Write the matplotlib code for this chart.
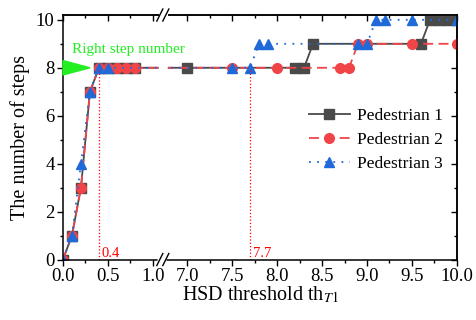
import numpy as np
import matplotlib.pyplot as plt
from matplotlib.patches import Polygon

# data
x1 = [0, 0.1, 0.2, 0.3, 0.4, 0.5, 0.6, 0.7, 0.8, 7.0, 8.2, 8.3, 8.4, 9.6, 9.7, 9.8, 9.9, 10.0]
y1 = [0, 1, 3, 7, 8, 8, 8, 8, 8, 8, 8, 8, 9, 9, 10, 10, 10, 10]
x2 = [0, 0.1, 0.2, 0.3, 0.4, 0.5, 0.6, 0.7, 0.8, 7.5, 8.0, 8.7, 8.8, 8.9, 9.0, 9.5, 10.0]
y2 = [0, 1, 3, 7, 8, 8, 8, 8, 8, 8, 8, 8, 8, 9, 9, 9, 9]
x3 = [0, 0.1, 0.2, 0.3, 0.4, 0.5, 7.5, 7.7, 7.8, 7.9, 8.9, 9.0, 9.1, 9.2, 9.5, 10.0]
y3 = [0, 1, 4, 7, 8, 8, 8, 8, 9, 9, 9, 9, 10, 10, 10, 10]
labels = ['Pedestrian 1', 'Pedestrian 2', 'Pedestrian 3']
right_steps = 8
marks = [0.4, 7.7]
xticks = [0.0, 0.5, 1.0, 7.0, 7.5, 8.0, 8.5, 9.0, 9.5, 10.0]
xminor = [0.25, 0.75, 7.25, 7.75, 8.25, 8.75, 9.25, 9.75]

GAP = 0.38  # width of the axis break (in data units)
BRK = 1.11  # break position on the transformed axis


def tx(v):
    v = np.asarray(v, dtype=float)
    return np.where(v <= 1.0, v, v - 7.0 + 1.0 + GAP)


plt.rcParams['font.family'] = ['Liberation Serif', 'DejaVu Serif']
plt.rcParams['mathtext.fontset'] = 'stix'

fig = plt.figure(figsize=(4.77, 3.2), dpi=100)
ax = fig.add_axes([0.132, 0.189, 0.826, 0.764])

ax.plot(tx(x1), y1, '-s', color='#4a4a4a', lw=1.3, ms=6.5, label=labels[0])
ax.plot(tx(x2), y2, '--o', color='#f04448', lw=1.3, ms=7, dashes=(5.5, 3), label=labels[1])
ax.plot(tx(x3), y3, ':^', color='#1f6ad8', lw=1.3, ms=7.5, dashes=(1, 3.5), label=labels[2])

for m in marks:
    ax.plot([tx(m), tx(m)], [0, right_steps], ':', color='red', lw=0.9)
    ax.text(tx(m) + 0.03, 0.12, f'{m}', color='red', fontsize=10.5)

# green arrow to the right step number
tri = Polygon([[0, right_steps - 0.3], [0, right_steps + 0.3], [0.3, right_steps]],
              closed=True, color='#22ee22', zorder=5, clip_on=False)
ax.add_patch(tri)
ax.text(0.1, 8.77, 'Right step number', color='#22ee22', fontsize=11, va='center', zorder=8)

ax.set_xlim(0, tx(10.0))
ax.set_ylim(0, 10.2)
ax.set_xticks(tx(xticks))
ax.set_xticklabels([f'{v:.1f}' for v in xticks])
ax.set_xticks(tx(xminor), minor=True)
ax.set_yticks([0, 2, 4, 6, 8, 10])
ax.set_yticks([1, 3, 5, 7, 9], minor=True)
ax.tick_params(which='both', direction='out', labelsize=13.5, width=1)
ax.tick_params(which='major', length=4, pad=2)
ax.tick_params(which='minor', length=2.5)
for s in ax.spines.values():
    s.set_linewidth(1.1)

# mirrored ticks on top and right pointing inwards
axt = ax.secondary_xaxis('top')
axt.set_xticks(tx(xticks))
axt.set_xticks(tx(xminor), minor=True)
axt.tick_params(which='both', direction='in', labeltop=False, width=1)
axt.tick_params(which='major', length=4)
axt.tick_params(which='minor', length=2.5)
axt.spines['top'].set_linewidth(1.1)
axr = ax.secondary_yaxis('right')
axr.set_yticks([0, 2, 4, 6, 8, 10])
axr.set_yticks([1, 3, 5, 7, 9], minor=True)
axr.tick_params(which='both', direction='in', labelright=False, width=1)
axr.tick_params(which='major', length=4)
axr.tick_params(which='minor', length=2.5)
axr.spines['right'].set_linewidth(1.1)

ax.set_xlabel(r'HSD threshold th$_{T\mathrm{1}}$', fontsize=14.5, labelpad=0)
ax.set_ylabel('The number of steps', fontsize=14.5, labelpad=4)

# axis break: white band plus two slashes at bottom and top
xl = ax.get_xlim()[1]
bx = BRK / xl
dx = 3.0 / 394
dy = 6.0 / 244
band = Polygon([[bx - dx - 0.004, -dy], [bx + dx, -dy], [bx + dx + 0.004, 1 + dy],
                [bx - dx, 1 + dy]], closed=True, transform=ax.transAxes,
               color='white', zorder=2.6, clip_on=False)
ax.add_patch(band)
for yb in [0, 1]:
    for off in [-dx, dx]:
        ax.plot([bx + off - dx, bx + off + dx], [yb - dy, yb + dy], color='black', lw=1,
                transform=ax.transAxes, clip_on=False, zorder=7)

ax.legend(loc='center right', bbox_to_anchor=(1.0, 0.49), frameon=False, fontsize=12.5,
          handlelength=2.4, labelspacing=0.45, borderaxespad=0.4, handletextpad=0.4)

plt.savefig('out.png', dpi=100)
plt.close()
